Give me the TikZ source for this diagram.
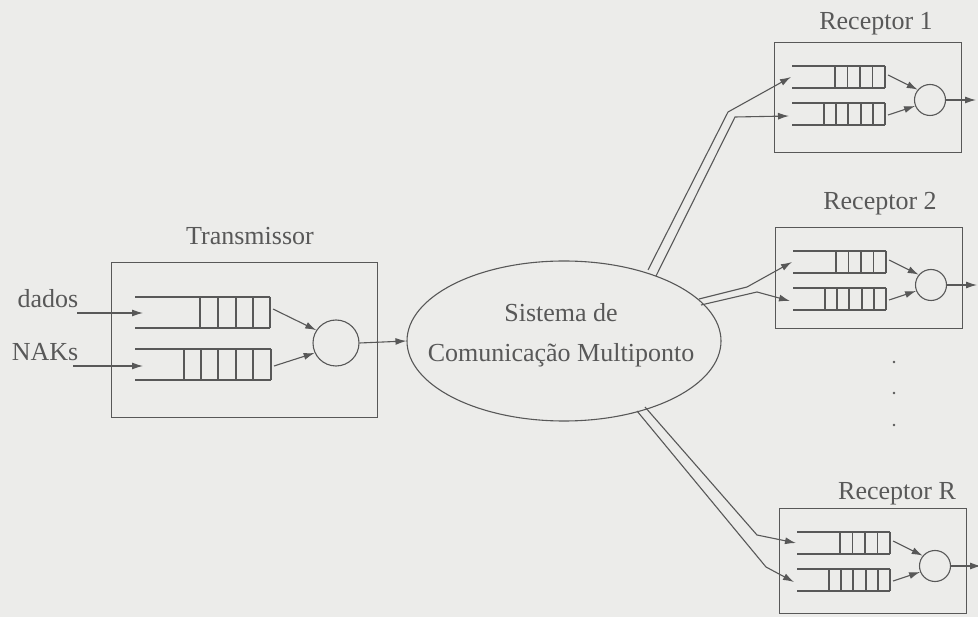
\documentclass[tikz,border=0pt]{standalone}
\usepackage{fontspec}
\setmainfont{Liberation Serif}
\usetikzlibrary{shapes.geometric,arrows.meta}
\definecolor{ink}{RGB}{88,88,88}
\definecolor{bg}{RGB}{236,236,234}
\tikzset{
  ln/.style={draw=ink, line width=1.1pt},
  arr/.style={ln, -{Latex[length=11pt,width=7pt]}},
  lbl/.style={text=ink, font=\fontsize{26}{30}\selectfont, inner sep=0pt, anchor=base},
  srv/.style={circle, draw=ink, line width=1.1pt, inner sep=0pt},
  frame/.style={draw=ink, line width=1.1pt, inner sep=0pt, anchor=north west},
}
% #1 name, #2 x, #3 y, #4 box height
\newcommand\Rcv[4]{%
\begin{scope}[shift={(#2,#3)}]
  \node[frame, minimum width=187pt, minimum height=#4pt] (#1box) at (0,0) {};
  \draw[ln] (18,24) -- (111,24) (18,46) -- (111,46);
  \foreach \c in {61,73.5,86,98.5,111} \draw[ln] (\c,24) -- (\c,46);
  \draw[ln] (18,61) -- (111,61) (18,83) -- (111,83);
  \foreach \c in {50,62,74,87,99,111} \draw[ln] (\c,61) -- (\c,83);
  \node[srv, minimum size=31pt] (#1c) at (156,58) {};
  \coordinate (#1q1) at (114,33);
  \coordinate (#1q2) at (114,73);
  \coordinate (#1in1) at (17,35);
  \coordinate (#1in2) at (15,74);
  \coordinate (#1out) at (202,58);
  \draw[arr] (#1q1) -- (#1c.140);
  \draw[arr] (#1q2) -- (#1c.202);
  \draw[arr] (#1c.east) -- (#1out);
\end{scope}}
\begin{document}
\begin{tikzpicture}[x=1pt,y=-1pt]
\fill[bg] (0,0) rectangle (978,617);
\useasboundingbox (0,0) rectangle (978,617);

% Transmitter
\node[frame, minimum width=266pt, minimum height=155pt] (Tbox) at (111,262) {};
\node[lbl] (Tlbl) at (250,245) {Transmissor};
\draw[ln] (135,297) -- (270,297) (135,328) -- (270,328);
\foreach \c in {200,218,236,253,270} \draw[ln] (\c,297) -- (\c,328);
\draw[ln] (135,349) -- (271,349) (135,380) -- (271,380);
\foreach \c in {184,201,218,236,253,271} \draw[ln] (\c,349) -- (\c,380);
\node[srv, minimum size=46pt] (Tc) at (336,343) {};
\coordinate (Tq1) at (273,309);
\coordinate (Tq2) at (274,366);
\coordinate (Tin1) at (143,313);
\coordinate (Tin2) at (143,366);
\coordinate (dsrc) at (77,313);
\coordinate (nsrc) at (73,366);
\draw[arr] (Tq1) -- (Tc.147);
\draw[arr] (Tq2) -- (Tc.205);
\draw[arr] (dsrc) -- (Tin1);
\draw[arr] (nsrc) -- (Tin2);
\node[lbl] (dados) at (48,308) {dados};
\node[lbl] (naks) at (45,361) {NAKs};

% System
\node[ellipse, draw=ink, line width=1.1pt, minimum width=314pt, minimum height=160pt,
      inner sep=0pt] (Sys) at (564,341) {};
\node[align=center, text=ink, inner sep=0pt, font=\fontsize{26}{40}\selectfont]
      (SysTxt) at (561,335) {Sistema de\\Comunica\c{c}\~ao Multiponto};
\draw[arr] (Tc.east) -- (Sys.west);

% Receivers
\Rcv{A}{774}{42}{110}
\Rcv{B}{775}{227}{101}
\Rcv{C}{779}{508}{105}
\node[lbl] (Albl) at (876,30) {Receptor 1};
\node[lbl] (Blbl) at (880,210) {Receptor 2};
\node[lbl] (Clbl) at (897,500) {Receptor R};

% double links
\coordinate (a1s) at (648,270); \coordinate (a1b) at (728,112);
\coordinate (a2s) at (656,276); \coordinate (a2b) at (735,117);
\draw[arr] (a1s) -- (a1b) -- (Ain1);
\draw[arr] (a2s) -- (a2b) -- (Ain2);
\coordinate (b1s) at (699,299); \coordinate (b1b) at (747,287);
\coordinate (b2s) at (701,305); \coordinate (b2b) at (757,292);
\draw[arr] (b1s) -- (b1b) -- (Bin1);
\draw[arr] (b2s) -- (b2b) -- (Bin2);
\coordinate (c1s) at (645,407); \coordinate (c1b) at (757,535);
\coordinate (c2s) at (637,411); \coordinate (c2b) at (766,567);
\draw[arr] (c1s) -- (c1b) -- (Cin1);
\draw[arr] (c2s) -- (c2b) -- (Cin2);

% dots
\foreach \y [count=\i] in {362,393,425} \fill[ink] (894,\y) circle (1.3pt) coordinate (dot\i);
\end{tikzpicture}
\end{document}
